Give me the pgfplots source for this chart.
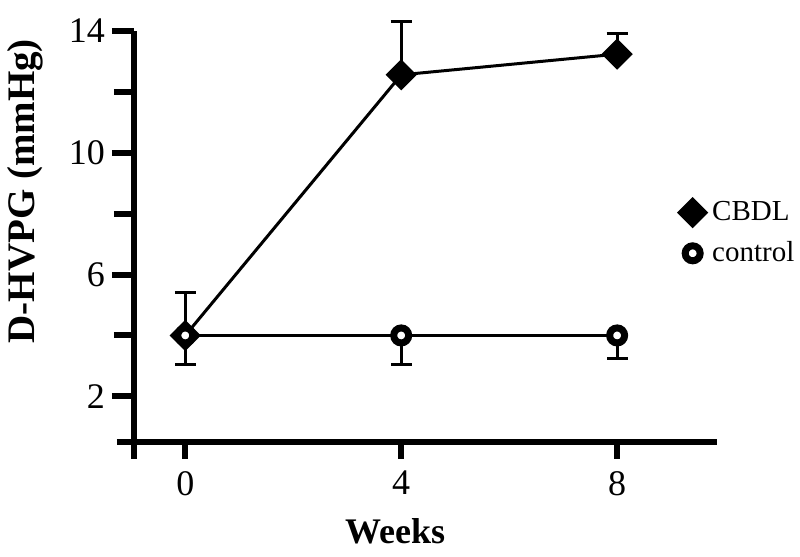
\documentclass[border=0pt]{standalone}
\usepackage{fontspec}
\setmainfont{Liberation Serif}
\usepackage{pgfplots}
\pgfplotsset{compat=1.18}
\begin{document}
\begin{tikzpicture}
\begin{axis}[
  at={(0pt,0pt)}, anchor=south west,
  scale only axis, width=291.5pt, height=205.5pt,
  xmin=-0.95, xmax=9.85, ymin=0.5, ymax=14,
  axis lines=left,
  axis line style={line width=3pt, -},
  every tick/.append style={line width=3pt, black},
  tick align=outside,
  xtick={0,4,8}, ytick={2,6,10,14},
  minor ytick={4,8,12},
  major tick length=11pt, minor tick length=10pt,
  xtick style={/pgfplots/major tick length=8.5pt},
  extra x ticks={-0.95}, extra x tick labels={},
  extra y ticks={0.5}, extra y tick labels={},
  extra y tick style={/pgfplots/major tick length=8.5pt},
  tick label style={font=\fontsize{18}{20}\selectfont},
  /pgf/number format/assume math mode=true,
  xlabel={Weeks}, ylabel={D-HVPG (mmHg)},
  xlabel style={at={(axis description cs:0.448,-0.217)}, anchor=center, font=\bfseries\fontsize{18}{20}\selectfont},
  ylabel style={at={(axis description cs:-0.187,0.61)}, anchor=center, font=\bfseries\fontsize{19.5}{22}\selectfont},
  clip=false,
  legend image code/.code={\path (0pt,0pt) (14pt,0pt); \draw[#1] plot coordinates {(7pt,0pt)};},
  legend style={draw=none, fill=none, at={(axis description cs:0.931,0.508)}, anchor=west, inner sep=0pt,
    font=\fontsize{14.5}{17}\selectfont, row sep=5pt, cells={anchor=west}},
]
\addplot[line width=1.5pt, black, mark=square*, mark size=4.77pt,
  mark options={rotate=45, solid, fill=black},
  error bars/.cd, y dir=plus, y explicit,
  error bar style={line width=1.5pt, black},
  error mark options={rotate=90, mark size=5.25pt, line width=1.5pt, black}]
  coordinates {(0,4.0) +- (0,1.41) (4,12.56) +- (0,1.74) (8,13.24) +- (0,0.68)};
\addlegendentry{CBDL}
\addplot[line width=1.5pt, black, mark=*, mark size=3.75pt,
  mark options={line width=3.5pt, fill=white, draw=black, solid},
  error bars/.cd, y dir=minus, y explicit,
  error bar style={line width=1.5pt, black},
  error mark options={rotate=90, mark size=5.25pt, line width=1.5pt, black}]
  coordinates {(0,4.0) +- (0,0.96) (4,4.0) +- (0,0.95) (8,4.0) +- (0,0.76)};
\addlegendentry{control}
\end{axis}
\pgfresetboundingbox
\path[use as bounding box] (-67pt,-57.5pt) rectangle (333pt,221pt);
\end{tikzpicture}
\end{document}
